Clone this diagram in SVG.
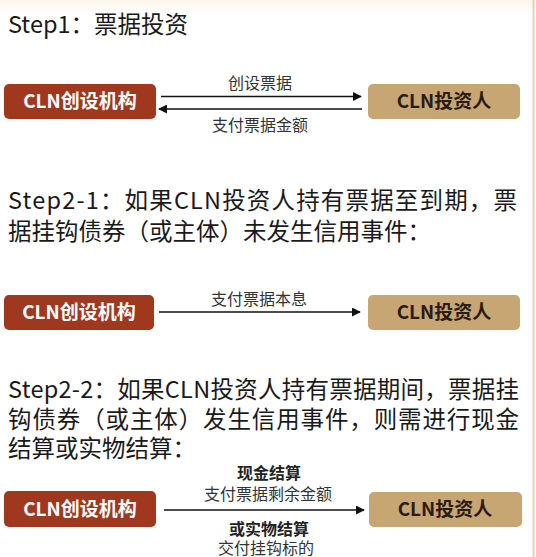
<svg xmlns="http://www.w3.org/2000/svg" width="536" height="557" viewBox="0 0 536 557">
<defs>
<style>
.h{font-family:"Noto Sans CJK SC","Noto Sans",sans-serif;font-size:23.5px;fill:#1a1a1a}
.lbl{font-family:"Noto Sans CJK SC","Noto Sans",sans-serif;font-size:16px;fill:#333;text-anchor:middle}
.lb{font-family:"Noto Sans CJK SC","Noto Sans",sans-serif;font-size:16px;fill:#222;font-weight:700;text-anchor:middle}
.red rect{fill:#a0371f}
.tan rect{fill:#c8a673}
.red text{font-family:"Noto Sans CJK SC","Noto Sans",sans-serif;font-size:19px;font-weight:700;fill:#fff;text-anchor:middle}
.tan text{font-family:"Noto Sans CJK SC","Noto Sans",sans-serif;font-size:19px;font-weight:700;fill:#2a1c12;text-anchor:middle}
.ln{stroke:#111;stroke-width:1.6;fill:none}
</style>
<marker id="ah" viewBox="0 0 10 10" refX="9" refY="5" markerWidth="9" markerHeight="9" markerUnits="userSpaceOnUse" orient="auto-start-reverse">
<path d="M0,0 L10,5 L0,10 z" fill="#111"/>
</marker>
<linearGradient id="bg" x1="0" y1="0" x2="0" y2="1">
<stop offset="0" stop-color="#fbf6ea"/>
<stop offset="1" stop-color="#ffffff"/>
</linearGradient>
</defs>
<rect width="536" height="557" fill="#fff"/>
<rect width="536" height="14" fill="url(#bg)"/>
<line x1="533.5" y1="0" x2="533.5" y2="557" stroke="#e6d3ad" stroke-width="2"/>

<text class="h" x="8" y="33">Step1：票据投资</text>
<text class="h" x="8" y="209" textLength="509" lengthAdjust="spacing">Step2-1：如果CLN投资人持有票据至到期，票</text>
<text class="h" x="8" y="240">据挂钩债券（或主体）未发生信用事件：</text>
<text class="h" x="8" y="398" textLength="511" lengthAdjust="spacing">Step2-2：如果CLN投资人持有票据期间，票据挂</text>
<text class="h" x="8" y="428" textLength="511" lengthAdjust="spacing">钩债券（或主体）发生信用事件，则需进行现金</text>
<text class="h" x="8" y="457">结算或实物结算：</text>

<g id="issuer1" class="red"><rect x="4" y="84" width="152" height="35" rx="5"/><text x="80" y="108">CLN创设机构</text></g>
<g id="investor1" class="tan"><rect x="368" y="84" width="152" height="35" rx="5"/><text x="444" y="108">CLN投资人</text></g>
<g id="issuer2" class="red"><rect x="4" y="295" width="150" height="35" rx="5"/><text x="79" y="319">CLN创设机构</text></g>
<g id="investor2" class="tan"><rect x="368" y="295" width="152" height="35" rx="5"/><text x="444" y="319">CLN投资人</text></g>
<g id="issuer3" class="red"><rect x="4" y="491" width="152" height="36" rx="5"/><text x="80" y="516">CLN创设机构</text></g>
<g id="investor3" class="tan"><rect x="369" y="492" width="153" height="35" rx="5"/><text x="445" y="516">CLN投资人</text></g>

<g id="connectors">
<line class="ln" x1="161" y1="96.5" x2="361" y2="96.5" marker-end="url(#ah)"/>
<line class="ln" x1="159" y1="109" x2="362" y2="109" marker-start="url(#ah)"/>
<text class="lbl" x="260" y="89">创设票据</text>
<text class="lbl" x="260" y="131">支付票据金额</text>
<line class="ln" x1="159" y1="312" x2="360" y2="312" marker-end="url(#ah)"/>
<text class="lbl" x="259" y="305">支付票据本息</text>
<line class="ln" x1="164" y1="510" x2="364" y2="510" marker-end="url(#ah)"/>
<text class="lb" x="269" y="479">现金结算</text>
<text class="lbl" x="268" y="500">支付票据剩余金额</text>
<text class="lb" x="269" y="535">或实物结算</text>
<text class="lbl" x="266" y="554">交付挂钩标的</text>
</g>
</svg>
